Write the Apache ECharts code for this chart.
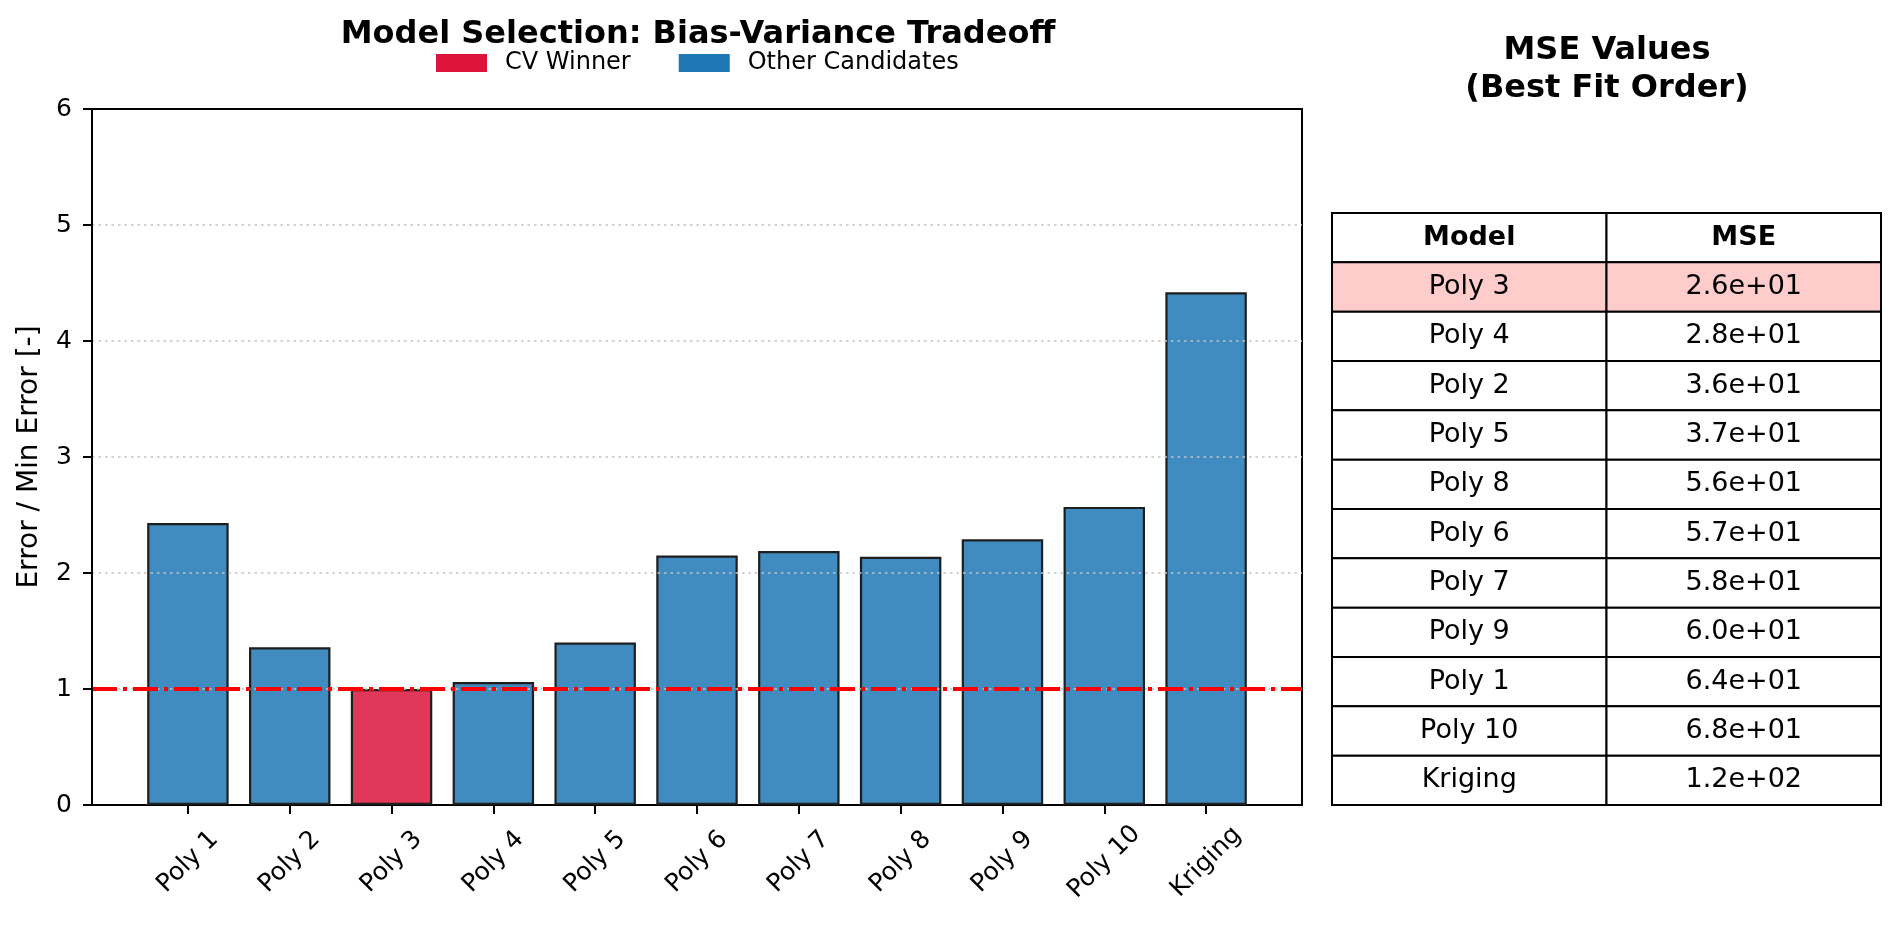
<!DOCTYPE html>
<html>
<head>
<meta charset="utf-8">
<script src="https://cdn.jsdelivr.net/npm/echarts@6/dist/echarts.min.js"></script>
<style>
html,body{margin:0;padding:0;background:#fff;}
#chart{width:1900px;height:930px;}
</style>
</head>
<body>
<div id="chart"></div>
<script>
// ---- data ----
const categories = ['Poly 1','Poly 2','Poly 3','Poly 4','Poly 5','Poly 6','Poly 7','Poly 8','Poly 9','Poly 10','Kriging'];
const errorRatio = [2.43, 1.36, 1.00, 1.06, 1.40, 2.15, 2.19, 2.14, 2.29, 2.57, 4.42];
const cvWinner = 'Poly 3';
const refLine = 1;
const yTicks = [0, 1, 2, 3, 4, 5, 6];
const tableHeader = ['Model', 'MSE'];
const tableModels = ['Poly 3','Poly 4','Poly 2','Poly 5','Poly 8','Poly 6','Poly 7','Poly 9','Poly 1','Poly 10','Kriging'];
const tableMse = ['2.6e+01','2.8e+01','3.6e+01','3.7e+01','5.6e+01','5.7e+01','5.8e+01','6.0e+01','6.4e+01','6.8e+01','1.2e+02'];

// ---- build ----
const FONT = 'DejaVu Sans';
const winnerData = categories.map((c, i) => c === cvWinner ? errorRatio[i] : '-');
const otherData = categories.map((c, i) => c === cvWinner ? '-' : errorRatio[i]);

const rowNames = ['header'].concat(tableModels);
const cells = [];
tableHeader.forEach((h, ci) => cells.push({value: [ci, 0], text: h, bold: true, fill: '#ffffff'}));
tableModels.forEach((m, ri) => {
  const fill = m === cvWinner ? '#ffcccc' : '#ffffff';
  cells.push({value: [0, ri + 1], text: m, bold: false, fill: fill});
  cells.push({value: [1, ri + 1], text: tableMse[ri], bold: false, fill: fill});
});

const chart = echarts.init(document.getElementById('chart'));
const option = {
  backgroundColor: '#ffffff',
  animation: false,
  textStyle: {fontFamily: FONT},
  title: [
    {text: 'Model Selection: Bias-Variance Tradeoff', left: 693, textAlign: 'center', top: 14,
     textStyle: {fontFamily: FONT, fontSize: 32, fontWeight: 'bold', color: '#000'}},
    {text: 'MSE Values\n(Best Fit Order)', left: 1602, textAlign: 'center', top: 27,
     textStyle: {fontFamily: FONT, fontSize: 32, fontWeight: 'bold', color: '#000', lineHeight: 38}}
  ],
  legend: {
    left: 431, top: 46, itemWidth: 51, itemHeight: 18, itemGap: 48,
    selectedMode: false,
    textStyle: {fontFamily: FONT, fontSize: 24, color: '#000', padding: [0, 0, 0, 13]},
    data: [
      {name: 'CV Winner', icon: 'rect', itemStyle: {color: '#DC143C', borderWidth: 0}},
      {name: 'Other Candidates', icon: 'rect', itemStyle: {color: '#1f77b4', borderWidth: 0}}
    ]
  },
  grid: [
    {left: 92, top: 109, width: 1210, height: 696, show: true, borderColor: '#000', borderWidth: 2, backgroundColor: 'transparent'},
    {left: 137, top: 109, width: 1120, height: 696},
    {left: 1332, top: 213, width: 549, height: 592}
  ],
  xAxis: [
    {gridIndex: 0, type: 'value', min: 0, max: 1, show: false},
    {gridIndex: 1, type: 'category', data: categories, boundaryGap: true,
     axisLine: {show: false},
     axisTick: {show: true, alignWithLabel: true, length: 9, lineStyle: {color: '#000', width: 2}},
     axisLabel: {rotate: 45, align: 'center', verticalAlign: 'middle', margin: 57, fontFamily: FONT, fontSize: 25, color: '#000', interval: 0}},
    {gridIndex: 2, type: 'category', data: tableHeader, show: false}
  ],
  yAxis: [
    {gridIndex: 0, type: 'value', min: yTicks[0], max: yTicks[yTicks.length - 1], interval: 1, z: 5,
     name: 'Error / Min Error [-]', nameLocation: 'middle', nameGap: 48, nameRotate: 90,
     nameTextStyle: {fontFamily: FONT, fontSize: 28, color: '#000'},
     axisLine: {show: true, lineStyle: {color: '#000', width: 2}},
     axisTick: {show: true, length: 9, lineStyle: {color: '#000', width: 2}},
     axisLabel: {margin: 20, fontFamily: FONT, fontSize: 25, color: '#000'},
     splitLine: {show: true, showMinLine: false, showMaxLine: false, lineStyle: {color: '#c4c4c4', width: 1.5, type: [2.5, 4]}}},
    {gridIndex: 1, type: 'value', min: yTicks[0], max: yTicks[yTicks.length - 1], show: false},
    {gridIndex: 2, type: 'category', data: rowNames, inverse: true, show: false}
  ],
  series: [
    {name: 'CV Winner', type: 'bar', xAxisIndex: 1, yAxisIndex: 1, data: winnerData,
     barWidth: '80%', barGap: '-100%',
     itemStyle: {color: 'rgba(220,20,60,0.85)', borderColor: '#1e1e1e', borderWidth: 2.2}},
    {name: 'Other Candidates', type: 'bar', xAxisIndex: 1, yAxisIndex: 1, data: otherData,
     barWidth: '80%', barGap: '-100%',
     itemStyle: {color: 'rgba(31,119,180,0.85)', borderColor: '#1e1e1e', borderWidth: 2.2}},
    {name: 'ref', type: 'line', xAxisIndex: 0, yAxisIndex: 0, data: [], z: 6,
     markLine: {silent: true, symbol: 'none', label: {show: false},
       lineStyle: {color: '#ff0000', width: 3.8, type: [25, 6, 4, 6]},
       data: [{yAxis: refLine}]}},
    {name: 'table', type: 'custom', xAxisIndex: 2, yAxisIndex: 2, data: cells.map(c => c.value),
     renderItem: function (params, api) {
       const cell = cells[params.dataIndex];
       const c = api.coord([api.value(0), api.value(1)]);
       const s = api.size([1, 1]);
       return {type: 'group', children: [
         {type: 'rect', shape: {x: c[0] - s[0] / 2, y: c[1] - s[1] / 2, width: s[0], height: s[1]},
          style: {fill: cell.fill, stroke: '#000', lineWidth: 2}},
         {type: 'text', style: {text: cell.text, x: c[0], y: c[1], align: 'center', verticalAlign: 'middle',
          fontFamily: FONT, fontSize: 27, fontWeight: cell.bold ? 'bold' : 'normal', fill: '#000'}}
       ]};
     }}
  ]
};
chart.setOption(option);
</script>
</body>
</html>
